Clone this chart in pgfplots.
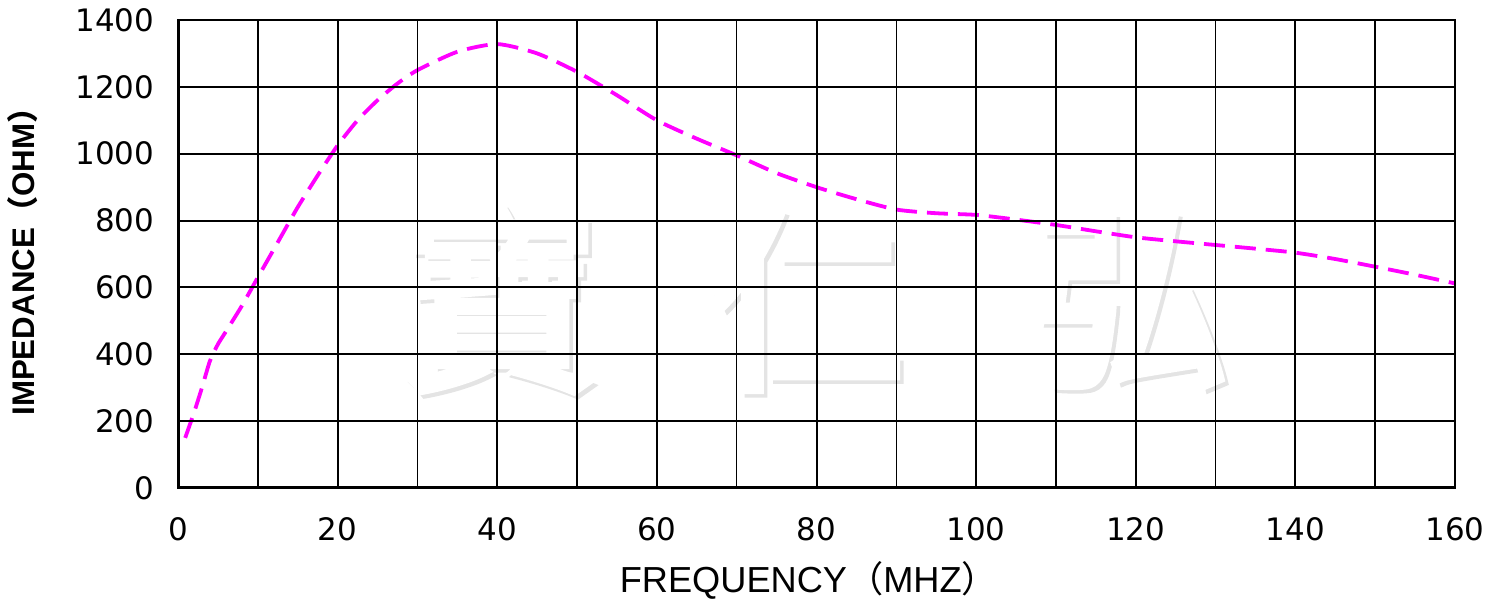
\documentclass[border=0pt]{standalone}
\usepackage{pgfplots}
\pgfplotsset{compat=1.18}
\usepackage{fontspec}
\setmainfont{Liberation Sans}
\newfontfamily\tickfont{DejaVu Sans}
\newfontfamily\cjk{Noto Sans CJK SC}
\newfontfamily\cjktc[FakeBold=4]{Noto Sans CJK TC}
\definecolor{curvemag}{RGB}{255,0,255}
\definecolor{wmshadow}{RGB}{228,228,228}
\tikzset{wm/.style={font=\fontsize{56}{60}\selectfont\cjktc}}

\begin{document}
\begin{tikzpicture}
\begin{axis}[
    at={(0,0)}, anchor=south west,
    scale only axis,
    width=127.7mm, height=46.8mm,
    xmin=0, xmax=160, ymin=0, ymax=1400,
    xtick={0,20,...,160}, ytick={0,200,...,1400},
    minor x tick num=1,
    grid=both,
    major grid style={black, line width=0.2mm},
    minor grid style={black, line width=0.15mm},
    axis line style={black, line width=0.2mm},
    major tick length=0pt, minor tick length=0pt,
    axis on top,
    /pgf/number format/assume math mode=true,
    /pgf/number format/1000 sep={},
    ticklabel style={font=\fontsize{8.8}{10}\selectfont\tickfont, inner sep=0pt, text=black},
    yticklabel style={anchor=east, xshift=-2.3mm},
    xticklabel style={anchor=north, yshift=-2.9mm},
    xlabel={FREQUENCY{\cjk （}MHZ{\cjk ）}},
    ylabel={\bfseries IMPEDANCE{\cjk （}OHM{\cjk ）}},
    xlabel style={font=\fontsize{10.3}{12}\selectfont, at={(axis description cs:0.494,0)}, anchor=base, yshift=-10.4mm, inner sep=0pt},
    ylabel style={font=\fontsize{8.9}{10}\selectfont, at={(axis description cs:0,0.5)}, anchor=base, yshift=14.3mm, inner sep=0pt},
]
% watermark
\node[wm, text=wmshadow, xshift=0.35mm, yshift=-0.35mm] at (axis cs:40.4,562) {寶};
\node[wm, text=white] at (axis cs:40.4,562) {寶};
\node[wm, text=wmshadow, xshift=0.35mm, yshift=-0.35mm] at (axis cs:78.8,562) {仁};
\node[wm, text=white] at (axis cs:78.8,562) {仁};
\node[wm, text=wmshadow, xshift=0.35mm, yshift=-0.35mm] at (axis cs:119.5,562) {弘};
\node[wm, text=white] at (axis cs:119.5,562) {弘};
% impedance curve
\addplot[curvemag, line width=0.38mm, dash pattern=on 2.1mm off 1.0mm, smooth, tension=0.4] coordinates {
(0.9,150) (2,225) (3,300) (4,380) (5,430) (6,468) (8,545) (10,630)
(12.5,735) (15,840) (17.5,935) (20,1025) (22.5,1100) (25,1160) (27.5,1210)
(30,1250) (35,1305) (40,1328) (45,1300) (50,1245) (55,1175) (60,1100)
(65,1045) (70,995) (75,942) (80,900) (85,864) (90,833) (95,822) (100,817)
(105,803) (110,787) (115,768) (120,750) (125,738) (130,727) (135,716)
(140,704) (145,685) (150,662) (155,638) (160,612)
};
\draw[black, line width=0.4mm] (rel axis cs:0,1) -- (rel axis cs:0,0) -- (rel axis cs:1,0);
\end{axis}
\pgfresetboundingbox
\path (-17.8mm,-11.4mm) rectangle (132.7mm,48.8mm);
\end{tikzpicture}
\end{document}
